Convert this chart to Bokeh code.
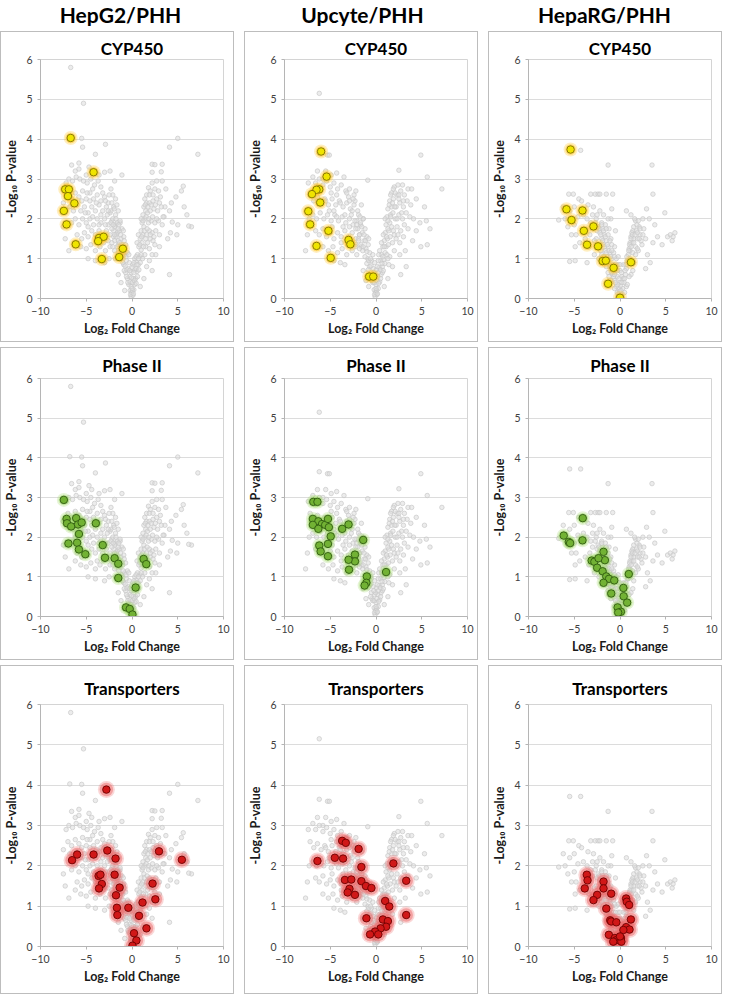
from bokeh.plotting import figure
from bokeh.layouts import column, row
from bokeh.models import Range1d, FixedTicker
from bokeh.core.properties import value
from bokeh.embed import file_html
from bokeh.resources import INLINE

# ---------------- data ----------------
col_labels = ["HepG2/PHH", "Upcyte/PHH", "HepaRG/PHH"]
row_labels = ["CYP450", "Phase II", "Transporters"]
x_ticks = [-10, -5, 0, 5, 10]
y_ticks = [0, 1, 2, 3, 4, 5, 6]

# all-protein background (log2 FC, -log10 p), same in every row of a column
bg_hepg2 = [
    (-6.7, 5.8), (-5.3, 4.9), (-6.8, 4.03), (-5.5, 4.02), (-5.4, 3.8), (-4.0, 3.62), (-2.9, 3.87), (-6.6, 3.35),
    (-4.7, 3.3), (-3.0, 3.17), (-1.1, 3.1), (-6.2, 3.2), (-5.8, 3.25), (-5.0, 3.1),
    (5.0, 4.02), (4.1, 3.8), (7.2, 3.62), (2.2, 3.37), (2.5, 3.36), (3.3, 3.37), (3.2, 3.18), (2.2, 3.17),
    (1.8, 2.78), (2.7, 2.95), (3.3, 2.95), (3.7, 2.75), (5.6, 2.82), (5.4, 2.7), (4.8, 2.55), (4.3, 2.4),
    (5.7, 2.3), (6.0, 2.1), (6.5, 1.8), (6.2, 1.82), (4.9, 1.6), (5.0, 1.85), (4.4, 1.92), (4.1, 2.2),
    (3.6, 2.3), (3.5, 2.05), (3.9, 1.5), (4.2, 1.65), (3.0, 1.3), (4.1, 0.6),
    (-7.2, 2.9), (-6.9, 3.0), (-6.5, 2.95), (-6.1, 3.05), (-5.7, 3.0), (-5.3, 2.95), (-4.9, 2.9), (-4.5, 3.0),
    (-4.1, 2.85), (-3.7, 2.95), (-3.4, 2.8),
    (-7.0, 2.6), (-6.6, 2.5), (-6.2, 2.65), (-5.8, 2.55), (-5.4, 2.7), (-5.0, 2.5), (-4.6, 2.65), (-4.2, 2.5),
    (-3.8, 2.6), (-3.4, 2.45), (-3.0, 2.55), (-2.6, 2.4),
    (-6.8, 2.3), (-6.4, 2.2), (-6.0, 2.35), (-5.6, 2.2), (-5.2, 2.3), (-4.8, 2.15), (-4.4, 2.3), (-4.0, 2.2),
    (-3.6, 2.35), (-3.2, 2.2), (-2.8, 2.3), (-2.4, 2.15), (-2.0, 2.3),
    (-6.6, 1.9), (-6.2, 2.0), (-5.8, 1.85), (-5.4, 2.0), (-5.0, 1.9), (-4.6, 2.0), (-4.2, 1.85), (-3.8, 2.0),
    (-3.4, 1.9), (-3.0, 2.0), (-2.6, 1.85), (-2.2, 1.95), (-1.8, 1.85),
    (-6.0, 1.6), (-5.5, 1.5), (-5.2, 1.65), (-4.8, 1.55), (-4.4, 1.7), (-4.0, 1.6), (-3.6, 1.7), (-3.2, 1.6),
    (-2.8, 1.7), (-2.4, 1.6), (-2.0, 1.55), (-1.6, 1.65),
    (-5.6, 1.3), (-5.0, 1.25), (-4.5, 1.35), (-4.0, 1.2), (-3.5, 1.3), (-2.9, 1.2), (-2.4, 1.3), (-1.9, 1.2),
    (-1.5, 1.35), (-4.8, 1.0), (-4.0, 0.95), (-3.0, 0.9), (-2.5, 1.0), (-6.9, 1.2), (-7.3, 1.5), (-7.5, 1.8),
    (-7.5, 2.4), (-6.2, 1.4), (-2.1, 2.6), (-1.8, 2.5), (-1.5, 2.2), (-2.3, 2.75), (-1.3, 1.9),
    (-5.8, 3.4), (-4.4, 3.2), (-3.6, 3.1), (-2.4, 3.2), (-1.9, 2.95),
    (-0.1, 0.05), (0.1, 0.08), (-0.2, 0.2), (0.2, 0.22), (-0.35, 0.35), (0.3, 0.35), (-0.1, 0.3), (-0.5, 0.5),
    (-0.25, 0.55), (0.4, 0.5), (0.15, 0.5), (-0.7, 0.65), (-0.4, 0.75), (0.55, 0.68), (0.3, 0.72), (-0.1, 0.65),
    (-0.9, 0.85), (-0.6, 0.95), (-0.3, 0.9), (0.7, 0.85), (0.45, 0.92), (0.1, 0.85), (-1.1, 1.05), (-0.8, 1.1),
    (-0.5, 1.15), (0.85, 1.05), (0.6, 1.1), (0.3, 1.0), (-1.3, 1.25), (-1.0, 1.3), (-0.7, 1.35), (1.0, 1.22),
    (0.75, 1.3), (-1.5, 1.45), (-1.2, 1.5), (-0.9, 1.55), (1.1, 1.4), (0.9, 1.5), (-1.7, 1.6), (-1.4, 1.7),
    (-1.1, 1.75), (1.2, 1.6), (1.0, 1.7), (-1.9, 1.8), (-1.6, 1.9), (-1.3, 1.95), (1.3, 1.8), (1.1, 1.9),
    (-2.1, 2.0), (-1.8, 2.1), (1.4, 2.0), (1.2, 2.1), (-2.3, 2.2), (1.5, 2.2), (1.3, 2.3), (1.6, 2.4), (1.4, 2.5),
    (1.7, 1.4), (2.0, 1.5), (2.3, 1.45), (1.6, 1.6), (1.9, 1.7), (2.2, 1.65), (2.6, 1.7), (1.8, 1.9),
    (2.1, 1.95), (2.5, 1.9), (2.9, 1.95), (1.7, 2.15), (2.0, 2.2), (2.4, 2.25), (2.8, 2.2), (3.2, 2.3),
    (1.9, 2.4), (2.3, 2.45), (2.7, 2.5), (3.1, 2.55), (2.0, 2.7), (2.5, 2.75), (2.9, 2.7), (2.2, 2.9),
    (1.5, 1.3), (1.9, 1.25), (2.5, 1.35), (3.0, 1.6), (3.3, 1.85), (3.4, 2.05), (2.6, 1.1), (1.4, 1.1),
    (2.2, 1.1), (-1.5, 0.6), (-1.2, 0.4), (1.3, 0.5), (1.6, 0.8), (0.9, 0.3), (-0.8, 0.2), (2.2, 0.7),
    (1.9, 0.95), (-1.8, 1.0), (-2.1, 1.3),
    (-0.05, 0.15), (0.05, 0.2), (-0.15, 0.1), (0.15, 0.12), (0.0, 0.25),
    (-0.45, 0.4), (-0.2, 0.42), (0.05, 0.4), (0.25, 0.45), (0.45, 0.38), (-0.6, 0.55), (-0.05, 0.52), (0.6, 0.55),
    (-0.85, 0.7), (-0.55, 0.72), (-0.25, 0.7), (0.0, 0.78), (0.2, 0.65), (0.45, 0.75), (0.75, 0.72), (-1.0, 0.9),
    (-0.75, 0.82), (0.9, 0.9), (0.2, 0.9), (0.55, 0.85),
    (-1.2, 1.0), (-0.95, 1.15), (-0.65, 1.05), (-0.35, 1.1), (0.45, 1.05), (0.7, 1.0), (1.0, 1.1), (1.15, 1.0),
    (-1.45, 1.15), (-1.6, 1.3), (-1.35, 1.4), (-1.1, 1.35), (-0.85, 1.45), (0.55, 1.4), (0.85, 1.35), (1.25, 1.3),
    (1.5, 1.5), (-1.9, 1.45), (-2.0, 1.7), (-1.75, 1.55), (-1.5, 1.75), (-1.25, 1.6), (-0.95, 1.7), (0.7, 1.6),
    (1.05, 1.55), (1.35, 1.7), (1.65, 1.75), (2.0, 1.6), (2.4, 1.55),
    (-2.3, 1.9), (-2.05, 1.85), (-1.75, 2.0), (-1.45, 1.85), (1.0, 2.0), (1.2, 1.95), (1.55, 2.05), (1.85, 2.0),
    (2.25, 2.05), (2.7, 2.0), (-2.6, 2.2), (-2.2, 2.4), (-1.95, 2.25), (-1.65, 2.35), (1.45, 2.35), (1.75, 2.3),
    (2.1, 2.35), (2.55, 2.35), (3.0, 2.4), (1.6, 2.6), (1.9, 2.6), (2.3, 2.6),
    (-5.5, 2.45), (-4.9, 2.65), (-4.3, 2.75), (-3.9, 2.4), (-3.2, 2.65), (-2.9, 2.45), (-2.5, 2.6), (-4.6, 2.45),
    (-5.1, 2.15), (-4.3, 2.05), (-3.4, 2.1), (-2.7, 2.1), (-3.6, 1.85), (-4.8, 1.8), (-2.9, 1.85), (-2.2, 1.75),
    (-3.1, 1.4), (-2.6, 1.45), (-3.8, 1.4), (-2.2, 1.4), (-1.9, 1.6),
]

bg_upcyte = [
    (-6.2, 5.15), (-5.3, 3.6), (-5.1, 3.6), (-6.2, 3.65), (4.9, 3.6), (2.5, 3.22), (5.6, 3.05), (7.2, 2.75),
    (-0.9, 2.97), (-6.4, 3.2), (-5.8, 3.0),
    (-6.9, 3.05), (-6.6, 2.9), (-6.2, 3.0), (-5.8, 2.85), (-5.4, 2.95), (-5.0, 2.8), (-4.6, 2.9), (-4.2, 2.75),
    (-3.8, 2.85), (-3.3, 2.7), (-2.9, 2.75), (-2.4, 2.6),
    (-7.2, 2.6), (-6.8, 2.45), (-6.4, 2.55), (-6.0, 2.4), (-5.6, 2.5), (-5.2, 2.35), (-4.8, 2.5), (-4.4, 2.35),
    (-4.0, 2.45), (-3.6, 2.3), (-3.2, 2.4), (-2.8, 2.25), (-2.4, 2.35), (-2.0, 2.2),
    (-6.9, 2.1), (-6.5, 2.0), (-6.1, 2.15), (-5.7, 2.0), (-5.3, 2.1), (-4.9, 1.95), (-4.5, 2.1), (-4.1, 1.95),
    (-3.7, 2.05), (-3.3, 1.9), (-2.9, 2.0), (-2.5, 1.85), (-2.1, 1.95), (-1.7, 1.85),
    (-6.6, 1.7), (-6.2, 1.6), (-5.8, 1.75), (-5.4, 1.55), (-5.0, 1.65), (-4.6, 1.5), (-4.2, 1.65), (-3.8, 1.55),
    (-3.4, 1.7), (-3.0, 1.55), (-2.6, 1.65), (-2.2, 1.5), (-1.8, 1.6),
    (-5.8, 1.3), (-5.2, 1.2), (-4.7, 1.3), (-4.2, 1.15), (-3.7, 1.25), (-3.2, 1.1), (-2.6, 1.2), (-2.1, 1.1),
    (-1.6, 1.3), (-4.6, 0.95), (-3.9, 0.9), (-3.4, 0.85), (-7.7, 1.2), (-7.5, 1.6), (-7.3, 2.0), (-7.4, 2.9),
    (-3.0, 2.55), (-2.2, 2.7), (-1.6, 2.35), (-1.4, 2.0), (-5.5, 3.2), (-4.9, 3.1), (-4.3, 3.15), (-3.5, 3.05),
    (-0.1, 0.05), (0.1, 0.1), (-0.2, 0.22), (0.25, 0.25), (0.0, 0.35), (-0.35, 0.4), (0.4, 0.42), (-0.15, 0.55),
    (0.2, 0.55), (-0.5, 0.6), (0.55, 0.6), (-0.3, 0.75), (0.05, 0.72), (0.35, 0.78), (-0.7, 0.8), (0.7, 0.8),
    (-0.5, 0.95), (-0.15, 0.9), (0.5, 0.95), (0.85, 0.98), (-0.9, 1.0), (-0.7, 1.15), (-0.35, 1.1), (0.6, 1.1),
    (1.0, 1.15), (-1.1, 1.25), (-0.85, 1.35), (0.75, 1.3), (1.1, 1.3), (-1.3, 1.45), (-1.0, 1.55), (0.9, 1.45),
    (1.25, 1.5), (-1.5, 1.65), (-1.2, 1.75), (1.0, 1.65), (1.4, 1.7), (-1.7, 1.9), (-1.4, 2.0), (1.1, 1.85),
    (1.5, 1.9), (-1.9, 2.1), (1.2, 2.05), (1.6, 2.1), (1.3, 2.25), (1.7, 2.3), (1.5, 2.45), (1.9, 2.5), (1.7, 2.65),
    (1.8, 1.4), (2.2, 1.5), (2.6, 1.4), (3.0, 1.55), (1.9, 1.7), (2.3, 1.8), (2.7, 1.7), (3.1, 1.85),
    (3.5, 1.75), (2.1, 2.0), (2.5, 2.1), (2.9, 2.0), (3.3, 2.15), (3.7, 2.05), (4.1, 2.0), (2.2, 2.3),
    (2.6, 2.4), (3.0, 2.3), (3.4, 2.45), (3.8, 2.35), (2.3, 2.6), (2.7, 2.7), (3.1, 2.6), (3.5, 2.75),
    (2.0, 2.8), (2.4, 2.85), (2.9, 2.85), (4.4, 1.7), (4.0, 1.45), (4.8, 1.9), (5.5, 1.95), (5.9, 1.75),
    (5.6, 1.35), (4.9, 1.3), (5.3, 2.3), (4.4, 2.5), (3.9, 2.75), (3.2, 1.2), (2.6, 1.1), (1.5, 1.05),
    (2.0, 1.2), (3.3, 0.8), (2.7, 0.6), (1.3, 0.5), (1.8, 0.8), (-1.4, 0.7), (-1.1, 0.45), (-0.8, 0.3),
    (0.9, 0.3), (1.4, 0.85), (-1.8, 1.25), (-2.2, 1.35),
    (-0.05, 0.15), (0.05, 0.2), (-0.15, 0.1), (0.15, 0.12), (0.0, 0.25),
    (-0.45, 0.45), (-0.2, 0.4), (0.1, 0.45), (0.3, 0.38), (0.5, 0.5), (-0.6, 0.5), (-0.05, 0.6), (0.7, 0.65),
    (-0.85, 0.72), (-0.55, 0.82), (-0.25, 0.65), (0.15, 0.8), (0.25, 0.65), (0.5, 0.72), (0.8, 0.7), (-1.0, 0.88),
    (-0.8, 0.95), (0.95, 0.88), (0.25, 0.95), (0.65, 0.88),
    (-1.2, 1.05), (-1.0, 1.18), (-0.6, 1.0), (0.3, 1.1), (0.4, 1.2), (0.75, 1.05), (1.2, 1.1), (1.3, 1.0),
    (-1.45, 1.2), (-1.65, 1.35), (-1.4, 1.3), (-1.15, 1.45), (-0.8, 1.5), (0.6, 1.4), (0.9, 1.3), (1.35, 1.35),
    (1.55, 1.55), (-1.9, 1.5), (-2.0, 1.75), (-1.8, 1.6), (-1.55, 1.8), (-1.3, 1.6), (0.8, 1.6), (1.15, 1.55),
    (1.3, 1.75), (1.7, 1.8), (2.0, 1.6), (2.4, 1.6), (-2.3, 1.95), (-2.1, 1.85), (-1.75, 2.05), (1.0, 2.0),
    (1.3, 1.95), (1.6, 2.05), (1.85, 2.15), (2.3, 2.0), (2.8, 2.15), (-2.6, 2.2), (-2.3, 2.45), (1.45, 2.35),
    (1.8, 2.4), (2.05, 2.3), (2.5, 2.5), (3.0, 2.45), (1.6, 2.6), (2.1, 2.65), (2.5, 2.6), (1.9, 2.75),
    (-5.5, 2.45), (-4.9, 2.65), (-4.3, 2.6), (-3.9, 2.4), (-3.2, 2.65), (-2.9, 2.45), (-2.5, 2.5), (-4.6, 2.2),
    (-5.1, 2.2), (-4.3, 2.05), (-3.4, 2.1), (-2.7, 2.1), (-3.6, 1.8), (-4.8, 1.8), (-2.9, 1.8), (-2.2, 1.75),
    (-3.1, 1.35), (-2.6, 1.4), (-3.8, 1.4), (-2.2, 1.3), (-1.9, 1.45),
]

bg_heparg = [
    (-5.5, 3.72), (-4.3, 3.72), (-1.3, 3.35), (3.5, 3.35),
    (-5.6, 2.62), (-5.1, 2.62), (-3.2, 2.62), (-2.7, 2.62), (-2.4, 2.62), (-2.2, 2.62), (-1.5, 2.62), (-0.8, 2.62),
    (3.6, 2.62), (-4.5, 2.5), (-4.2, 2.45), (-3.5, 2.35), (-2.9, 2.3), (-5.0, 2.3), (-5.5, 2.2), (-6.2, 2.3),
    (-6.0, 2.0), (-6.7, 1.97), (-5.7, 1.8), (-5.0, 1.85), (-4.6, 2.05), (-4.0, 2.1), (-3.6, 2.0), (-3.0, 2.1),
    (-2.6, 2.0), (-2.2, 2.2), (-1.8, 2.1), (-1.0, 2.0), (-0.9, 2.25), (-5.3, 1.6), (-4.8, 1.6), (-4.4, 1.4),
    (-4.9, 1.3), (-3.8, 1.5), (-3.3, 1.6), (-3.0, 1.75), (-2.5, 1.7), (-2.0, 1.9), (-1.6, 1.85), (-1.2, 1.75),
    (-5.5, 0.93), (-4.9, 0.95), (-3.6, 0.9), (-2.8, 1.1), (-2.3, 1.0), (-1.0, 1.5), (-0.5, 1.7), (-0.6, 1.3),
    (0.7, 2.2), (1.2, 2.1), (1.7, 1.95), (2.1, 1.8), (2.5, 2.0), (2.9, 2.25), (3.2, 2.0), (3.8, 1.85),
    (4.1, 1.55), (4.9, 2.15), (5.2, 1.55), (5.5, 1.6), (5.8, 1.55), (6.0, 1.65), (5.7, 1.45), (4.6, 1.35),
    (3.6, 1.4), (3.0, 1.1), (2.8, 0.75), (3.3, 0.9), (1.5, 1.5), (1.9, 1.5), (2.2, 1.6), (1.3, 1.4),
    (1.7, 1.3), (1.1, 1.2), (2.4, 1.35), (2.0, 1.2), (1.4, 1.7), (1.8, 1.7), (2.3, 1.45),
    (0.0, 0.05), (-0.2, 0.12), (0.2, 0.12), (-0.1, 0.25), (0.3, 0.25), (-0.4, 0.3), (0.0, 0.4), (-0.6, 0.45),
    (0.45, 0.4), (-0.3, 0.55), (0.2, 0.55), (-0.8, 0.6), (0.6, 0.6), (-0.5, 0.7), (0.0, 0.7), (-1.0, 0.75),
    (0.7, 0.75), (-0.7, 0.85), (-0.2, 0.85), (0.4, 0.85), (-1.2, 0.9), (-0.9, 1.0), (0.8, 0.95), (-0.4, 1.0),
    (-1.4, 1.05), (-1.1, 1.15), (0.9, 1.1), (-0.7, 1.15), (-1.6, 1.2), (-1.3, 1.3), (1.0, 1.25), (-0.9, 1.35),
    (-1.8, 1.35), (-1.5, 1.45), (1.1, 1.4), (-2.0, 1.5), (-1.7, 1.6), (1.2, 1.55), (-2.2, 1.65), (-1.9, 1.75),
    (-2.4, 1.8), (1.3, 1.65), (-1.6, 0.9), (-2.0, 1.1), (-1.3, 0.65), (-1.0, 0.45), (0.7, 0.3), (1.2, 0.6),
    (1.5, 0.9), (1.4, 1.15), (-0.3, 0.15), (0.5, 0.15), (-0.6, 0.25),
    (-0.05, 0.18), (0.1, 0.2), (-0.15, 0.05), (0.12, 0.05), (0.05, 0.32),
    (-0.25, 0.35), (-0.5, 0.4), (0.2, 0.4), (0.35, 0.5), (-0.7, 0.55), (-0.1, 0.5), (0.5, 0.5),
    (-0.9, 0.65), (-0.6, 0.6), (-0.3, 0.7), (0.15, 0.65), (0.55, 0.7), (-1.1, 0.8), (-0.85, 0.75), (-0.5, 0.85),
    (0.0, 0.85), (0.65, 0.85), (-1.3, 0.95), (-1.05, 1.05), (-0.6, 1.05), (-0.2, 1.05), (0.75, 1.05), (0.9, 0.95),
    (-1.5, 1.15), (-1.2, 1.2), (-0.9, 1.2), (0.95, 1.2), (-1.7, 1.3), (-1.4, 1.35), (-1.1, 1.45), (1.05, 1.35),
    (1.2, 1.3), (-1.9, 1.45), (-1.6, 1.55), (-1.3, 1.6), (1.2, 1.5), (1.5, 1.4), (-2.1, 1.6), (-1.8, 1.7),
    (-1.5, 1.75), (1.35, 1.6), (1.65, 1.6), (1.9, 1.65), (2.1, 1.5), (-2.3, 1.75), (-2.0, 1.85), (1.5, 1.8),
    (1.85, 1.85), (2.2, 1.75), (1.6, 2.0), (2.0, 1.95),
    (-2.6, 1.5), (-2.4, 1.3), (-2.1, 1.2), (-1.8, 1.05), (-1.5, 0.8), (-1.2, 0.55), (-2.7, 1.9), (-3.2, 1.9),
    (-2.8, 1.45), (-3.4, 1.3), (-2.5, 2.1), (-1.3, 2.0), (1.1, 1.0), (1.4, 0.7), (1.7, 1.1), (1.9, 1.25),
    (2.5, 1.6), (2.8, 1.5), (2.6, 1.75), (1.0, 0.55), (0.8, 0.35),
]

# highlighted protein classes
hepg2_cyp = [(-6.7, 4.03), (-4.2, 3.17), (-7.3, 2.74), (-6.9, 2.74), (-7.0, 2.57), (-6.3, 2.39), (-7.45, 2.2),
             (-7.15, 1.86), (-6.15, 1.36), (-3.6, 1.52), (-3.1, 1.55), (-3.7, 1.44), (-3.3, 0.99), (-1.0, 1.25),
             (-1.4, 1.04)]
hepg2_phase2 = [(-7.45, 2.94), (-7.15, 2.46), (-7.1, 2.35), (-6.65, 2.27), (-6.1, 2.48), (-5.9, 2.32), (-5.5, 2.37),
                (-5.8, 2.08), (-6.95, 1.84), (-6.0, 1.86), (-5.8, 1.69), (-5.1, 1.57), (-3.95, 2.35), (-3.2, 1.80),
                (-2.95, 1.48), (-1.9, 1.47), (-1.5, 1.33), (-1.5, 0.97), (0.4, 0.73), (1.27, 1.45), (1.56, 1.32),
                (-0.65, 0.23), (-0.25, 0.19), (0.05, 0.05)]
hepg2_trans = [(-2.8, 3.89), (-6.55, 2.14), (-6.0, 2.28), (-4.2, 2.28), (-2.7, 2.38), (-1.8, 2.18), (-1.9, 1.78),
               (-3.65, 1.75), (-3.45, 1.78), (-3.3, 1.55), (-3.6, 1.44), (-1.35, 1.46), (-1.75, 1.27), (-1.65, 0.96),
               (-1.6, 0.78), (-0.4, 0.96), (0.77, 0.76), (1.15, 1.09), (2.25, 1.56), (2.55, 1.17), (2.95, 2.36),
               (5.45, 2.15), (1.58, 0.45), (0.22, 0.33), (0.48, 0.15), (0.05, 0.02)]
upcyte_cyp = [(-6.0, 3.69), (-5.4, 3.06), (-6.2, 2.74), (-6.5, 2.73), (-7.0, 2.62), (-6.1, 2.41), (-7.4, 2.19),
              (-7.2, 1.86), (-5.2, 1.70), (-6.5, 1.32), (-3.0, 1.47), (-2.8, 1.36), (-4.95, 1.02), (-0.75, 0.55),
              (-0.3, 0.55)]
upcyte_phase2 = [(-6.85, 2.89), (-6.4, 2.89), (-6.9, 2.46), (-6.3, 2.40), (-5.9, 2.33), (-6.9, 2.31), (-5.55, 2.31),
                 (-5.25, 2.46), (-5.15, 2.25), (-6.3, 2.21), (-4.95, 2.02), (-3.7, 2.21), (-3.0, 2.32), (-6.2, 1.79),
                 (-5.25, 1.83), (-6.05, 1.64), (-5.25, 1.52), (-1.4, 1.93), (-2.3, 1.56), (-2.3, 1.39), (-3.0, 1.43),
                 (-2.95, 1.18), (-1.0, 1.01), (-1.05, 0.85), (-1.25, 0.78), (1.1, 1.12)]
upcyte_trans = [(-6.4, 2.12), (-4.5, 2.2), (-3.6, 2.18), (-3.7, 2.62), (-3.3, 2.57), (-1.9, 2.42), (-1.6, 1.97),
                (-3.4, 1.65), (-2.7, 1.66), (-1.6, 1.62), (-1.1, 1.5), (-0.5, 1.45), (-2.9, 1.43), (-3.1, 1.34),
                (-2.3, 1.28), (-1.05, 0.7), (1.9, 2.06), (3.3, 1.63), (3.3, 0.78), (1.0, 1.13), (1.45, 0.99),
                (0.75, 0.67), (1.3, 0.63), (1.1, 0.49), (0.5, 0.45), (-0.1, 0.37), (0.25, 0.3), (-0.65, 0.3)]
heparg_cyp = [(-5.4, 3.74), (-5.85, 2.24), (-4.1, 2.21), (-5.3, 1.97), (-2.9, 1.81), (-3.95, 1.70), (-3.6, 1.35),
              (-2.4, 1.31), (-1.9, 0.94), (-1.55, 0.95), (-0.7, 0.77), (1.2, 0.91), (-1.3, 0.37), (0.0, 0.02)]
heparg_phase2 = [(-4.07, 2.48), (-6.15, 2.04), (-5.6, 1.88), (-5.45, 1.85), (-4.1, 1.92), (-1.8, 1.63), (-1.65, 1.42),
                 (-3.1, 1.41), (-2.8, 1.38), (-2.35, 1.47), (-2.5, 1.23), (-1.9, 1.14), (-1.5, 1.01), (-1.2, 0.95),
                 (-0.63, 0.91), (-1.8, 0.85), (0.96, 1.07), (-0.96, 0.58), (0.37, 0.72), (0.4, 0.51), (0.78, 0.35),
                 (-0.26, 0.23), (0.1, 0.12), (-0.2, 0.1)]
heparg_trans = [(-3.63, 1.78), (-3.55, 1.64), (-3.85, 1.44), (-1.8, 1.61), (-1.8, 1.44), (-2.5, 1.28), (-2.9, 1.15),
                (-0.96, 1.31), (-1.5, 0.94), (-1.07, 0.65), (-0.96, 0.62), (-0.4, 0.6), (0.67, 1.19), (0.74, 1.11),
                (1.0, 1.03), (1.19, 0.67), (0.67, 0.48), (1.04, 0.42), (0.37, 0.41), (-1.22, 0.29), (-0.56, 0.21),
                (-0.37, 0.16), (-0.74, 0.12), (0.11, 0.21), (0.15, 0.12), (0.0, 0.25)]

backgrounds = [bg_hepg2, bg_upcyte, bg_heparg]
highlights = [
    [hepg2_cyp, hepg2_phase2, hepg2_trans],
    [upcyte_cyp, upcyte_phase2, upcyte_trans],
    [heparg_cyp, heparg_phase2, heparg_trans],
]

# ---------------- style ----------------
FONT = "Lato"
row_styles = [
    dict(glow="#ffc21a", main="#f0e400", edge="#7d6f00", glow_size=14),
    dict(glow="#a0d868", main="#72b234", edge="#2f5a10", glow_size=14),
    dict(glow="#ee6a6a", main="#d01818", edge="#6e0000", glow_size=17),
]
FRAME_W = 181
FRAME_H = [237, 236, 240]
TOP = [27, 30, 38]
BOTTOM = [45, 45, 49]
TITLE_STANDOFF = [1, 5, 12]
GAP_X = 10
PANEL_W = FRAME_W + 37 + 12 + 2  # incl. css border


def make_panel(ci, ri):
    st = row_styles[ri]
    p = figure(frame_width=FRAME_W, frame_height=FRAME_H[ri],
               x_range=Range1d(-10, 10), y_range=Range1d(0, 6),
               toolbar_location=None, output_backend="svg",
               min_border_left=37, min_border_right=12,
               min_border_top=TOP[ri], min_border_bottom=BOTTOM[ri],
               title=row_labels[ri])
    p.styles = {"border": "1px solid #bdbdbd"}
    p.title.align = "center"
    p.title.text_font = FONT
    p.title.text_font_size = "17px"
    p.title.text_font_style = "bold"
    p.title.text_color = "#000000"
    p.title.standoff = TITLE_STANDOFF[ri]
    p.title.offset = -13
    p.outline_line_color = "#d4d4d4"
    p.outline_line_width = 1
    p.xgrid.grid_line_color = None
    p.ygrid.grid_line_color = "#dcdcdc"
    p.ygrid.ticker = FixedTicker(ticks=y_ticks)
    p.xaxis.ticker = FixedTicker(ticks=x_ticks)
    p.yaxis.ticker = FixedTicker(ticks=y_ticks)
    for ax in (p.xaxis, p.yaxis):
        ax.axis_line_color = "#b5b5b5"
        ax.major_tick_line_color = "#b5b5b5"
        ax.major_tick_out = 3
        ax.major_tick_in = 0
        ax.minor_tick_line_color = None
        ax.major_label_text_font = FONT
        ax.major_label_text_font_size = "10.5px"
        ax.major_label_text_color = "#404040"
        ax.axis_label_text_font = FONT
        ax.axis_label_text_font_size = "12.5px"
        ax.axis_label_text_font_style = "bold"
        ax.axis_label_text_color = "#1a1a1a"
    p.xaxis.major_label_standoff = 5
    p.xaxis.axis_label_standoff = 3
    p.yaxis.major_label_standoff = 5
    p.yaxis.axis_label_standoff = 4
    p.xaxis.axis_label = "Log\u2082 Fold Change"
    p.yaxis.axis_label = "-Log\u2081\u2080 P-value"

    bx = [v[0] for v in backgrounds[ci]]
    by = [v[1] for v in backgrounds[ci]]
    p.scatter(bx, by, marker="circle", size=4.5, line_color="#c8c8c8", line_width=0.7,
              fill_color="#dcdcdc", fill_alpha=0.55)

    hx = [v[0] for v in highlights[ci][ri]]
    hy = [v[1] for v in highlights[ci][ri]]
    p.scatter(hx, hy, marker="circle", size=st["glow_size"], line_color=None,
              fill_color=st["glow"], fill_alpha=0.28)
    p.scatter(hx, hy, marker="circle", size=st["glow_size"] - 3.5, line_color=None,
              fill_color=st["glow"], fill_alpha=0.5)
    p.scatter(hx, hy, marker="circle", size=7.5, line_color=st["edge"], line_width=0.9,
              fill_color=st["main"])
    return p


# header with the three comparisons
total_w = 3 * PANEL_W + 2 * GAP_X
header = figure(frame_width=total_w, frame_height=26, x_range=Range1d(0, total_w), y_range=Range1d(0, 1),
                toolbar_location=None, output_backend="svg", x_axis_type=None, y_axis_type=None,
                min_border=0)
header.grid.grid_line_color = None
header.outline_line_color = None
hx_pos = [i * (PANEL_W + GAP_X) + PANEL_W / 2 + 4 for i in range(len(col_labels))]
header.text(x=hx_pos, y=[0.45] * len(col_labels), text=col_labels, text_align="center",
            text_baseline="middle", text_font=value(FONT), text_font_size="21px",
            text_font_style="bold", text_color="#000000")

rows_layout = []
for ri in range(3):
    rows_layout.append(row([make_panel(ci, ri) for ci in range(3)], spacing=GAP_X))

layout = column([header] + rows_layout, spacing=5)

open("out.html", "w").write(file_html(layout, INLINE))
